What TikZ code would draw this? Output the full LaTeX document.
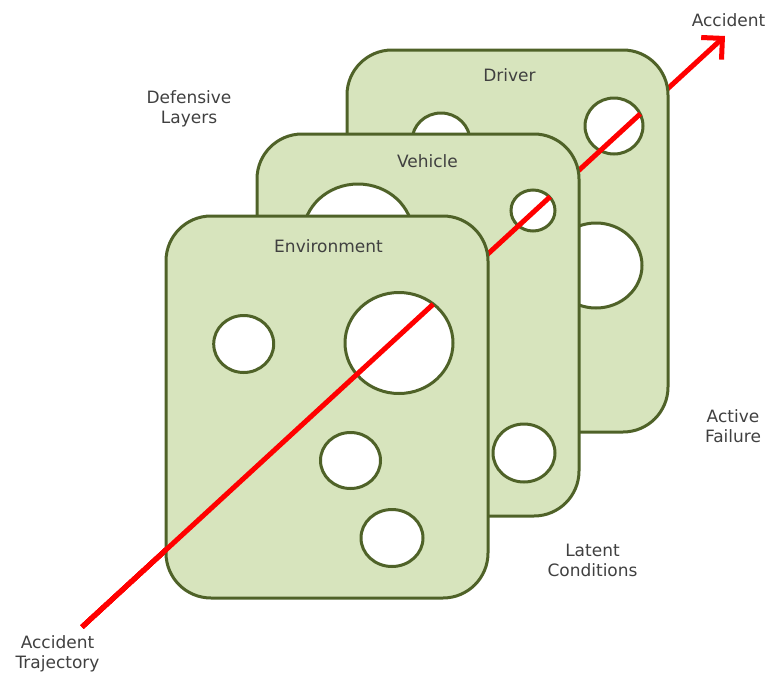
\documentclass[tikz,border=0pt]{standalone}
\usepackage{fontspec}
\setmainfont{DejaVu Sans}
\usetikzlibrary{arrows.meta,calc}
\definecolor{panelfill}{HTML}{D7E4BD}
\definecolor{paneledge}{HTML}{4F6228}
\definecolor{trajred}{HTML}{FF0000}
\definecolor{labelgray}{HTML}{404040}
\begin{document}
\begin{tikzpicture}[x=1pt,y=-1pt,
  panel/.style={draw=paneledge, fill=panelfill, line width=3pt, rounded corners=45pt},
  hole/.style={draw=paneledge, fill=white, line width=3pt},
  traj/.style={draw=trajred, line width=5pt},
  lbl/.style={text=labelgray, font=\fontsize{17}{20}\selectfont, inner sep=0pt, align=center},
]
\useasboundingbox (0,0) rectangle (768,672);

\coordinate (s) at (82,627);
\coordinate (e) at (725,36);
\coordinate (pD) at ($(s)!0.8683!(e)$);
\coordinate (pV) at ($(s)!0.7281!(e)$);
\coordinate (pE) at ($(s)!0.5462!(e)$);

% full trajectory (bottom layer)
\draw[traj, -{Straight Barb[length=15pt,width=30pt]}] (s) -- (e);

% Driver layer
\draw[panel] (347,50) rectangle (668,432);
\draw[hole] (441,141) ellipse [x radius=29pt, y radius=28pt];
\draw[hole] (614,126) ellipse [x radius=29pt, y radius=28pt];
\draw[hole] (596,265.5) ellipse [x radius=46pt, y radius=42.5pt];
\node[lbl, anchor=base] (driver) at (509.5,81) {Driver};
\draw[traj] (s) -- (pD);

% Vehicle layer
\draw[panel] (257,134) rectangle (579,516);
\draw[hole] (358,235) ellipse [x radius=55pt, y radius=51pt];
\draw[hole] (533,210.5) ellipse [x radius=22pt, y radius=20.5pt];
\draw[hole] (524,453) ellipse [x radius=31pt, y radius=29pt];
\node[lbl, anchor=base] (vehicle) at (427.5,167) {Vehicle};
\draw[traj] (s) -- (pV);

% Environment layer
\draw[panel] (166,216) rectangle (488,598);
\draw[hole] (243.7,344) ellipse [x radius=30pt, y radius=28.5pt];
\draw[hole] (399,343) ellipse [x radius=54pt, y radius=50.5pt];
\draw[hole] (350.5,460.5) ellipse [x radius=30pt, y radius=28pt];
\draw[hole] (392,538) ellipse [x radius=31pt, y radius=28.5pt];
\node[lbl, anchor=base] (environment) at (328.5,252) {Environment};
\draw[traj] (s) -- (pE);

% outer labels
\node[lbl, anchor=base] (accident) at (728.5,26) {Accident};
\node[lbl] (defensive) at (189,108.5) {Defensive\\Layers};
\node[lbl] (active) at (733,426.5) {Active\\Failure};
\node[lbl] (latent) at (592.5,560.5) {Latent\\Conditions};
\node[lbl] (trajectory) at (57.5,654) {Accident\\Trajectory};
\end{tikzpicture}
\end{document}
